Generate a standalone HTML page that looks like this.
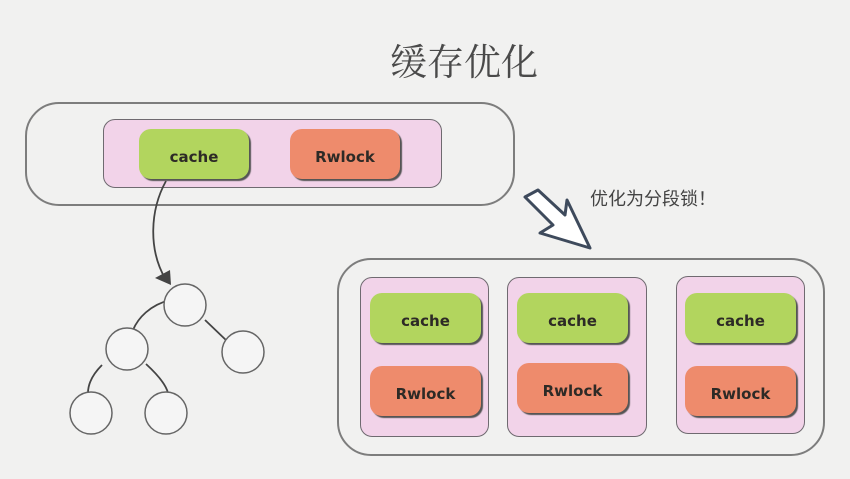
<!DOCTYPE html>
<html><head><meta charset="utf-8"><style>
body{margin:0;width:850px;height:479px;overflow:hidden;background:#f1f1f0;font-family:"Liberation Sans","Noto Sans CJK SC",sans-serif;position:relative}
.a{position:absolute;box-sizing:border-box}
.outer{border:2px solid #7d7d7d;border-radius:34px}
.pink{background:#f2d3e9;border:1.5px solid #6f6a70;border-radius:12px}
.b{border-radius:12px;font-weight:bold;font-size:15px;color:#2d2a26;display:flex;align-items:center;justify-content:center;padding-top:6px;box-shadow:2px 2px 1px #555;font-family:"DejaVu Sans",sans-serif}
.g{background:#b2d55e}.o{background:#ee8b6c}
</style></head><body>
<div class="a" style="left:390px;top:32px;font-size:37px;color:#4a4a4a;font-family:'Noto Serif CJK SC',serif">缓存优化</div>
<div class="a" style="left:590px;top:185px;font-size:18px;color:#444">优化为分段锁！</div>
<div class="a outer" style="left:25px;top:102px;width:490px;height:104px"></div>
<div class="a pink" style="left:103px;top:119px;width:339px;height:69px"></div>
<div class="a b g" style="left:139px;top:129px;width:110px;height:50px">cache</div>
<div class="a b o" style="left:290px;top:129px;width:110px;height:50px">Rwlock</div>
<div class="a outer" style="left:337px;top:258px;width:488px;height:198px"></div>
<div class="a pink" style="left:360px;top:277px;width:129px;height:160px"></div>
<div class="a pink" style="left:507px;top:277px;width:140px;height:160px"></div>
<div class="a pink" style="left:676px;top:276px;width:129px;height:158px"></div>
<div class="a b g" style="left:370px;top:293px;width:111px;height:50px">cache</div>
<div class="a b o" style="left:370px;top:366px;width:111px;height:50px">Rwlock</div>
<div class="a b g" style="left:517px;top:293px;width:111px;height:50px">cache</div>
<div class="a b o" style="left:517px;top:363px;width:111px;height:50px">Rwlock</div>
<div class="a b g" style="left:685px;top:293px;width:111px;height:50px">cache</div>
<div class="a b o" style="left:685px;top:366px;width:111px;height:50px">Rwlock</div>
<svg class="a" style="left:0;top:0" width="850" height="479">
<g fill="none" stroke="#444" stroke-width="1.8">
<path d="M166 181 C150 210,148 250,166 280"/>
<path d="M170 300 C150 305,138 318,133 330"/>
<path d="M205 320 L228 342"/>
<path d="M102 365 C92 375,88 385,88 393"/>
<path d="M146 364 C158 375,166 385,168 393"/>
</g>
<path d="M155 278 L170 270 L171 285 Z" fill="#444"/>
<g fill="#f5f5f5" stroke="#666" stroke-width="1.5">
<circle cx="185" cy="305" r="21"/><circle cx="127" cy="349" r="21"/>
<circle cx="243" cy="352" r="21"/><circle cx="91" cy="413" r="21"/><circle cx="166" cy="413" r="21"/>
</g>
<path d="M525 197 L538 190 L565 215 L567 200 L590 248 L540 233 L553 225 Z" fill="#fff" stroke="#3e4a5c" stroke-width="3" stroke-linejoin="round"/>
</svg>
</body></html>
